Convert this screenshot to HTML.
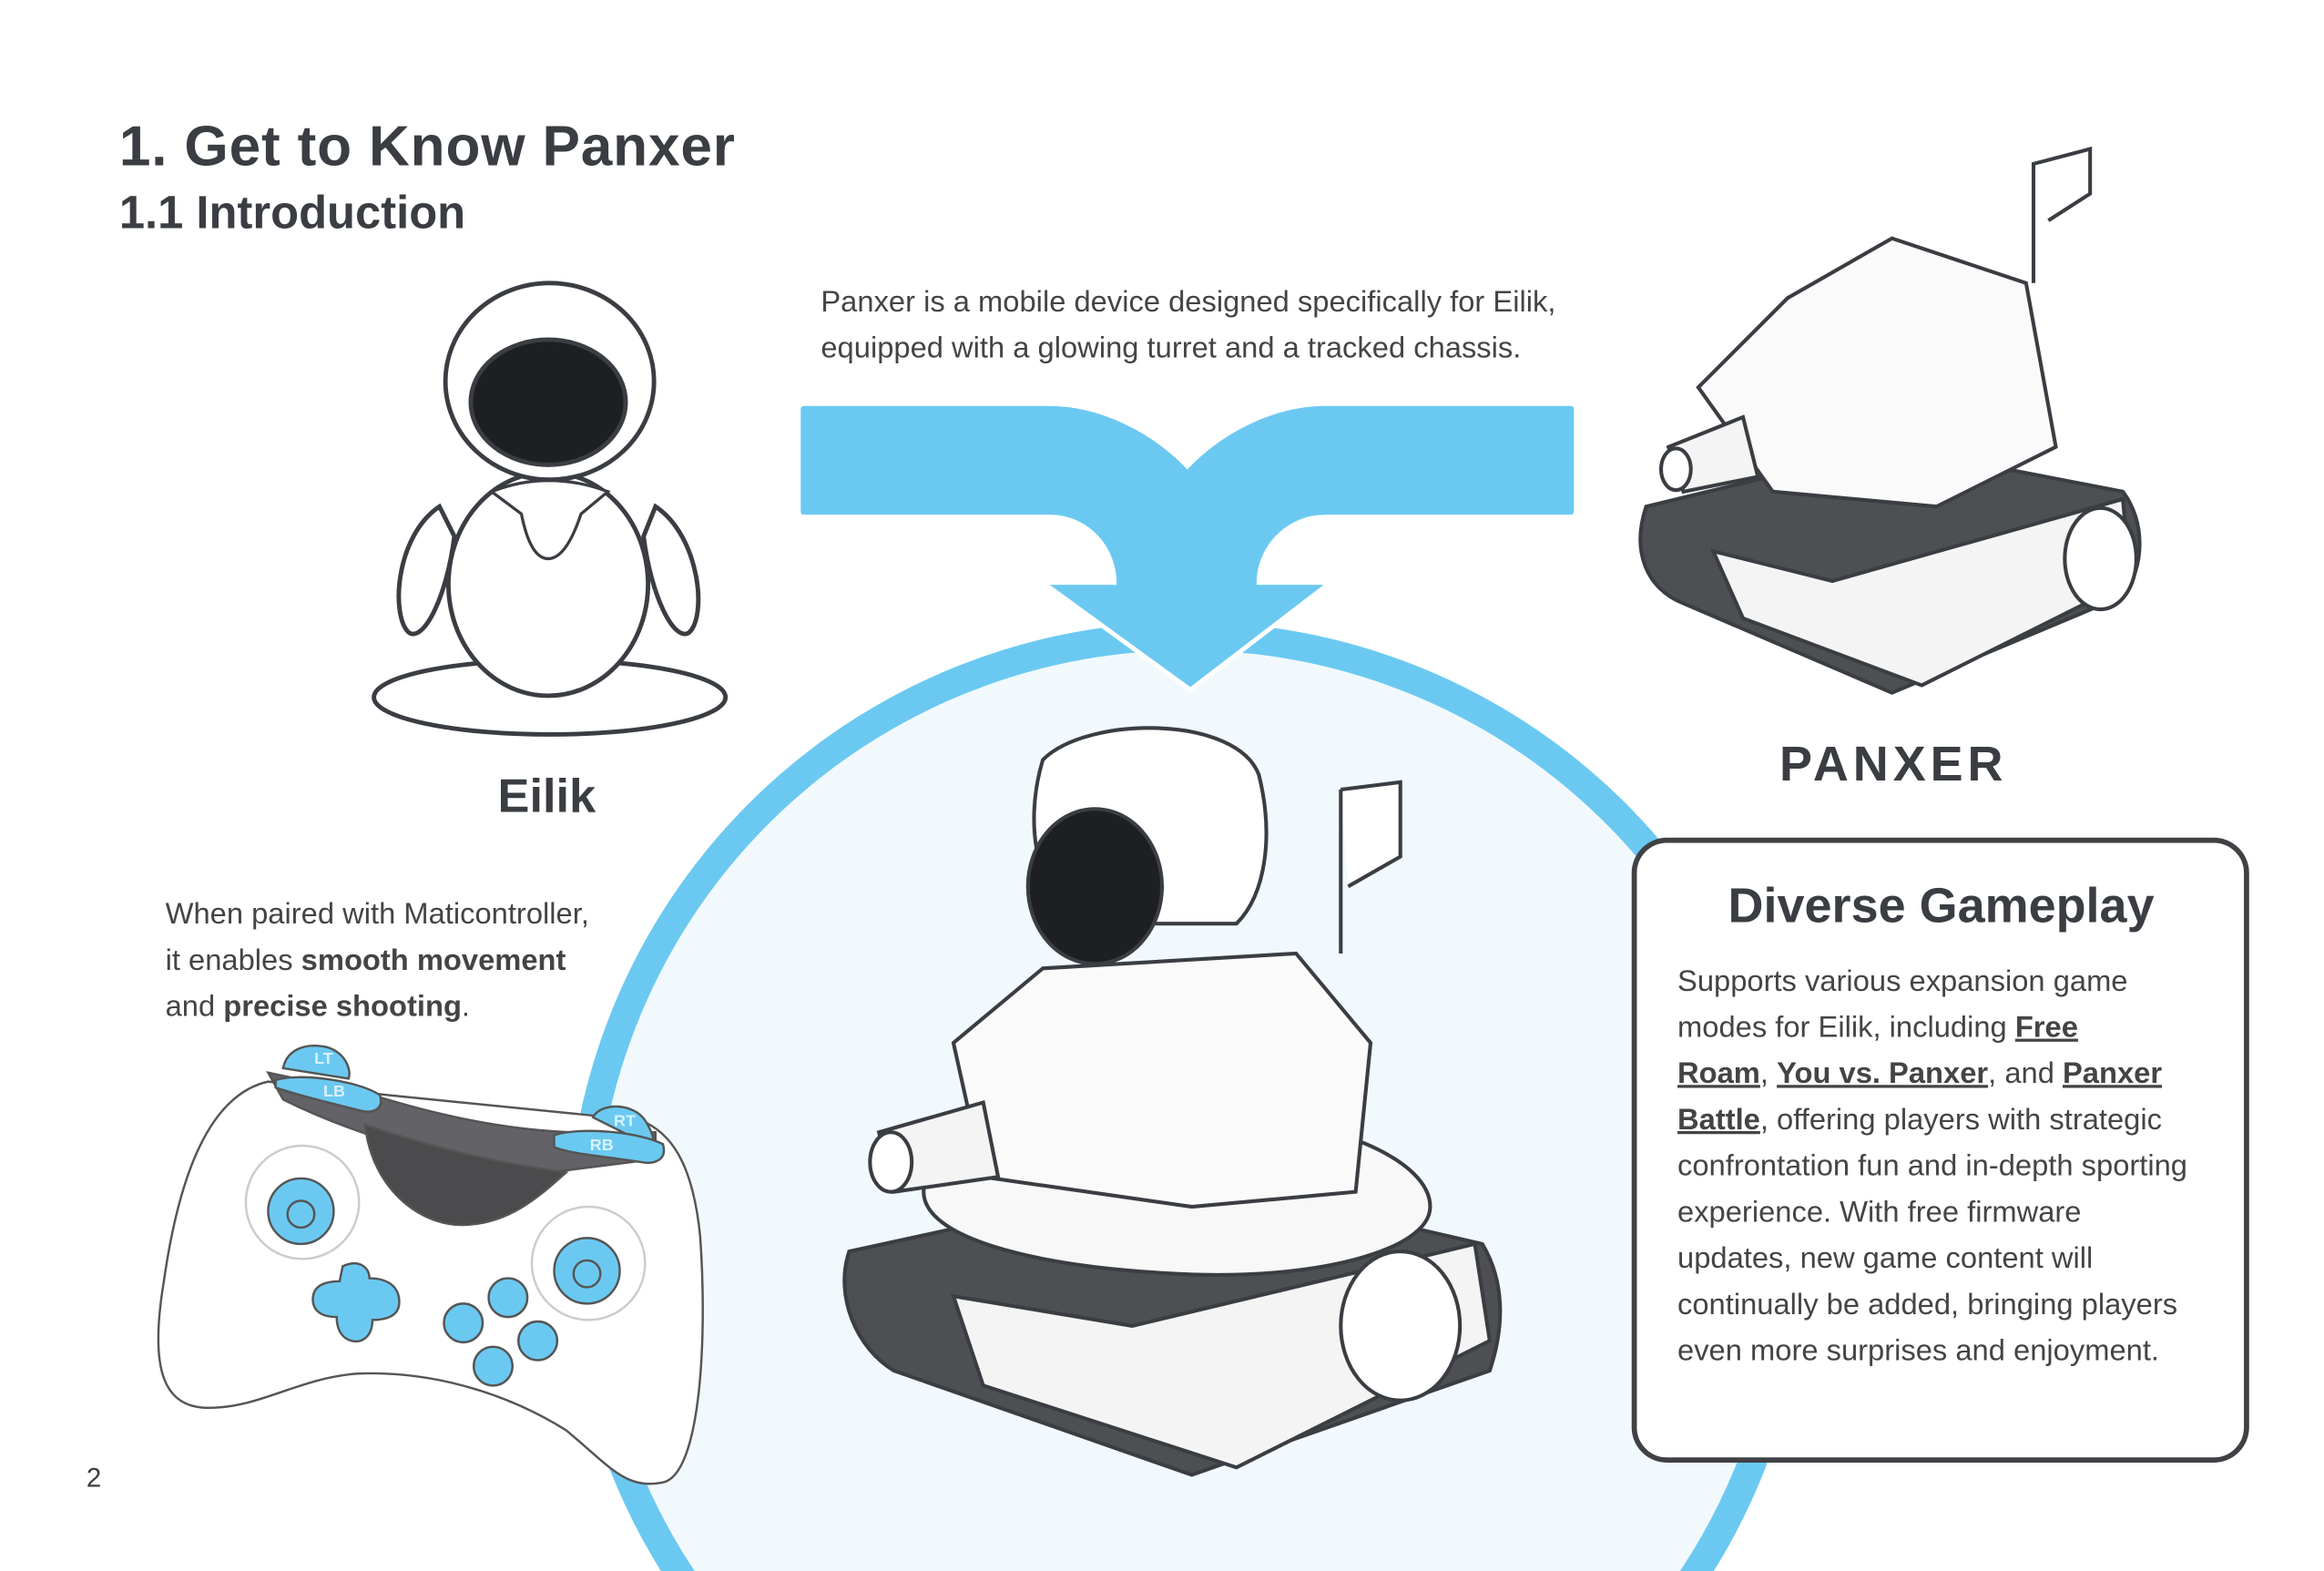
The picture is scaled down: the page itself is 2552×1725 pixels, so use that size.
<!DOCTYPE html>
<html><head><meta charset="utf-8"><style>
html,body{margin:0;padding:0;background:#fff;width:2552px;height:1725px;overflow:hidden;}
svg{display:block;}
.t{font-family:"Liberation Sans",sans-serif;fill:#3a3d42;}
.b{font-size:20px;fill:#444;}
</style></head><body>
<svg width="2552" height="1725" viewBox="0 0 1560 1054.5" preserveAspectRatio="none" xmlns="http://www.w3.org/2000/svg">
<rect width="1560" height="1054.5" fill="#fff"/>
<circle cx="797" cy="834" r="407" fill="#f1f9fd" stroke="#6bc9f1" stroke-width="19"/>
<path d="M540,271 H704 C740,271 775,290 797,313 C819,290 854,271 890,271 H1054 Q1058,271 1058,275 V343 Q1058,347 1054,347 H890 C862,347 845,370 845,391 H893 L799,463 L700,391 H748 C748,370 732,347 704,347 H540 Q536,347 536,343 V275 Q536,271 540,271 Z" fill="#6bc9f1" stroke="#fff" stroke-width="3"/>
<text class="t" x="80" y="111" font-size="38" font-weight="bold" letter-spacing="0.5">1. Get to Know Panxer</text>
<text class="t" x="80" y="153" font-size="31" font-weight="bold">1.1 Introduction</text>
<text class="t b" x="551" y="209">Panxer is a mobile device designed specifically for Eilik,</text>
<text class="t b" x="551" y="240">equipped with a glowing turret and a tracked chassis.</text>
<g stroke="#3a3d42" stroke-width="3" fill="#fff">
<ellipse cx="369" cy="468" rx="118" ry="25"/>
<path d="M295,340 C265,360 262,415 275,425 C285,430 300,400 305,360Z"/>
<path d="M440,340 C470,360 475,415 462,425 C452,430 437,400 432,360Z"/>
<ellipse cx="368" cy="392" rx="67" ry="75"/>
<path d="M330,330 Q368,315 408,330 L390,345 Q380,375 368,375 Q356,375 350,345 Z" fill="#fff" stroke-width="2"/>
<ellipse cx="369" cy="256" rx="70" ry="66"/>
<ellipse cx="368" cy="270" rx="52" ry="42" fill="#1e1f21"/>
</g>
<text class="t" x="367" y="545" font-size="32" font-weight="bold" text-anchor="middle">Eilik</text>
<text class="t b" x="111" y="620">When paired with Maticontroller,</text>
<text class="t b" x="111" y="651">it enables <tspan font-weight="bold">smooth movement</tspan></text>
<text class="t b" x="111" y="682">and <tspan font-weight="bold">precise shooting</tspan>.</text>
<g stroke="#555" stroke-width="1.5">
<path d="M180,726 C140,735 120,790 110,860 C100,920 110,945 140,945 C175,945 200,925 240,922 C290,920 340,935 380,960 C410,985 420,1000 445,995 C470,990 475,900 470,830 C465,780 450,760 430,752 L260,735 Z" fill="#fff"/>
<path d="M180,720 L190,738 C230,758 270,770 345,790 L440,778 L440,760 C380,762 330,760 250,735 Z" fill="#636266"/>
<path d="M245,755 C250,800 285,825 315,822 C345,820 365,800 380,787 C330,780 290,770 245,755Z" fill="#4b4a4c"/>
<path d="M190,717 C193,703 207,700 220,703 C232,707 236,718 234,724 Z" fill="#6bc9f1"/>
<path d="M185,725 C200,720 240,725 255,735 C258,745 250,748 240,745 C220,740 200,735 185,730Z" fill="#6bc9f1"/>
<path d="M398,750 C403,740 425,740 433,752 C438,760 440,766 438,770 Z" fill="#6bc9f1"/>
<path d="M372,762 C390,756 430,760 445,768 C448,778 440,782 430,780 C405,776 385,775 372,770Z" fill="#6bc9f1"/>
<circle cx="203" cy="807" r="38" fill="none" stroke="#ccc"/>
<circle cx="395" cy="848" r="38" fill="none" stroke="#ccc"/>
<circle cx="202" cy="813" r="22" fill="#6bc9f1"/>
<circle cx="202" cy="815" r="9" fill="#6bc9f1"/>
<circle cx="394" cy="853" r="22" fill="#6bc9f1"/>
<circle cx="394" cy="855" r="9" fill="#6bc9f1"/>
<path d="M230,850 C240,845 248,850 248,858 C258,858 268,862 268,874 C268,884 258,886 250,886 C250,896 244,902 236,900 C228,898 226,890 226,884 C216,884 210,880 210,872 C210,862 220,860 228,860 Z" fill="#6bc9f1"/>
<circle cx="341" cy="871" r="13" fill="#6bc9f1"/>
<circle cx="311" cy="888" r="13" fill="#6bc9f1"/>
<circle cx="361" cy="900" r="13" fill="#6bc9f1"/>
<circle cx="331" cy="917" r="13" fill="#6bc9f1"/>
</g>
<g font-family="Liberation Sans,sans-serif" font-size="11" font-weight="bold" fill="#d8f1fc">
<text x="211" y="714">LT</text><text x="217" y="736">LB</text>
<text x="412" y="756">RT</text><text x="396" y="772">RB</text>
</g>
<g stroke="#3a3d42" stroke-width="2.5" fill="#fff">
<path d="M570,840 C560,870 575,905 600,920 L800,990 L1000,920 C1010,890 1010,860 995,835 L800,790 Z" fill="#4e4f52"/>
<path d="M640,870 L760,890 L990,835 L1000,900 L830,985 L660,930 Z" fill="#f4f4f4"/>
<ellipse cx="940" cy="890" rx="40" ry="50" fill="#fff"/>
<path d="M620,800 C620,760 700,740 800,745 C900,750 960,780 960,810 C960,840 880,860 790,855 C690,850 620,830 620,800Z" fill="#f8f8f8"/>
<path d="M640,700 L700,650 L870,640 L920,700 L910,800 L800,810 L660,790 Z" fill="#fafafa"/>
<path d="M590,760 L660,740 L670,790 L600,800 Z" fill="#f4f4f4"/>
<ellipse cx="598" cy="780" rx="14" ry="20"/>
<path d="M900,530 V640 M900,530 L940,525 V575 L905,595" fill="#fff"/>
<path d="M700,510 C730,480 830,480 845,520 C855,560 850,600 830,620 L730,620 C700,610 685,560 700,510Z"/>
<ellipse cx="735" cy="595" rx="45" ry="52" fill="#1e1f21"/>
</g>
<g stroke="#3a3d42" stroke-width="2.5" fill="#fff">
<path d="M1105,340 C1095,370 1105,395 1130,405 L1270,465 L1425,400 C1440,380 1440,350 1425,330 L1270,300 Z" fill="#4e4f52"/>
<path d="M1150,370 L1230,390 L1425,335 L1430,390 L1290,460 L1170,415 Z" fill="#f4f4f4"/>
<ellipse cx="1410" cy="375" rx="24" ry="34"/>
<path d="M1140,260 L1200,200 L1270,160 L1360,190 L1380,300 L1300,340 L1190,330 Z" fill="#fafafa"/>
<path d="M1120,300 L1170,280 L1180,320 L1130,330Z" fill="#f4f4f4"/>
<ellipse cx="1125" cy="315" rx="10" ry="14"/>
<path d="M1365,190 V110 L1403,100 V130 L1375,148" fill="#fff"/>
</g>
<text class="t" x="1271" y="524" font-size="33" font-weight="bold" text-anchor="middle" letter-spacing="3">PANXER</text>
<rect x="1097" y="564" width="411" height="416" rx="22" fill="#fff" stroke="#3f4145" stroke-width="3.5"/>
<text class="t" x="1303" y="619" font-size="33" font-weight="bold" text-anchor="middle">Diverse Gameplay</text>
<text class="t b" x="1126" y="665">Supports various expansion game</text>
<text class="t b" x="1126" y="696">modes for Eilik, including <tspan font-weight="bold" text-decoration="underline">Free </tspan></text>
<text class="t b" x="1126" y="727"><tspan font-weight="bold" text-decoration="underline">Roam</tspan>, <tspan font-weight="bold" text-decoration="underline">You vs. Panxer</tspan>, and <tspan font-weight="bold" text-decoration="underline">Panxer </tspan></text>
<text class="t b" x="1126" y="758"><tspan font-weight="bold" text-decoration="underline">Battle</tspan>, offering players with strategic</text>
<text class="t b" x="1126" y="789">confrontation fun and in-depth sporting</text>
<text class="t b" x="1126" y="820">experience. With free firmware</text>
<text class="t b" x="1126" y="851">updates, new game content will</text>
<text class="t b" x="1126" y="882">continually be added, bringing players</text>
<text class="t b" x="1126" y="913">even more surprises and enjoyment.</text>
<text class="t" x="58" y="998" font-size="18" fill="#444">2</text>
</svg>
</body></html>
